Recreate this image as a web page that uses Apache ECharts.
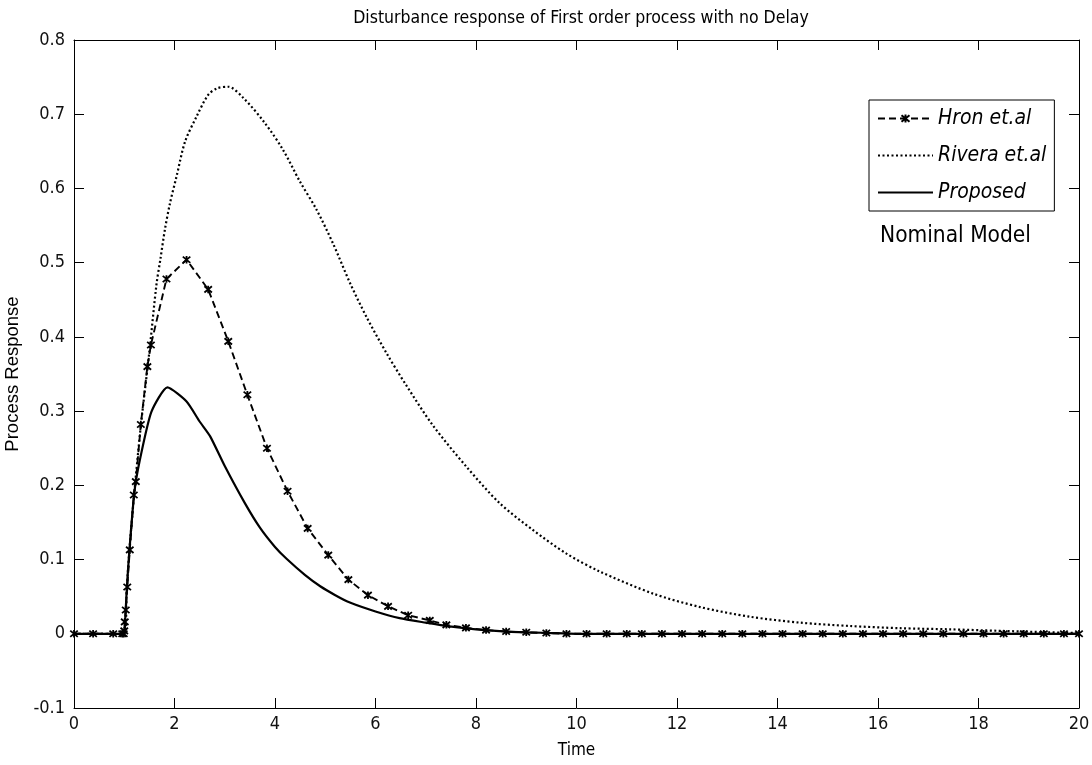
<!DOCTYPE html>
<html>
<head>
<meta charset="utf-8">
<script src="https://cdn.jsdelivr.net/npm/echarts@6/dist/echarts.min.js"></script>
<style>
html,body{margin:0;padding:0;background:#fff;}
#chart{width:1092px;height:765px;}
</style>
</head>
<body>
<div id="chart"></div>
<script>
const titleText = 'Disturbance response of First order process with no Delay';
const xTicks = [0, 2, 4, 6, 8, 10, 12, 14, 16, 18, 20];
const yTicks = [-0.1, 0, 0.1, 0.2, 0.3, 0.4, 0.5, 0.6, 0.7, 0.8];
const seriesNames = ['Hron et.al', 'Rivera et.al', 'Proposed'];

const hronT = [0, 0.38, 0.78, 0.96, 0.99, 1.0, 1.01, 1.03, 1.06, 1.11, 1.19, 1.23, 1.33, 1.46, 1.53, 1.84, 2.24, 2.67, 3.07, 3.45, 3.84, 4.25, 4.65, 5.06, 5.46, 5.85, 6.25, 6.65, 7.08, 7.41, 7.8, 8.2, 8.6, 9.0, 9.4, 9.8, 10.2, 10.6, 11.0, 11.3, 11.7, 12.1, 12.5, 12.9, 13.3, 13.7, 14.1, 14.5, 14.9, 15.3, 15.7, 16.1, 16.5, 16.9, 17.3, 17.7, 18.1, 18.5, 18.9, 19.3, 19.7, 20];
const hronV = [0, 0, 0, 0, 0, 0.004, 0.016, 0.032, 0.063, 0.113, 0.187, 0.205, 0.282, 0.36, 0.389, 0.478, 0.504, 0.464, 0.394, 0.322, 0.25, 0.192, 0.142, 0.106, 0.073, 0.052, 0.037, 0.025, 0.018, 0.012, 0.008, 0.005, 0.003, 0.002, 0.001, 0, 0, 0, 0, 0, 0, 0, 0, 0, 0, 0, 0, 0, 0, 0, 0, 0, 0, 0, 0, 0, 0, 0, 0, 0, 0, 0];

const riveraT = [0, 1.0, 1.05, 1.1, 1.2, 1.33, 1.5, 1.64, 1.72, 1.81, 1.91, 2.04, 2.21, 2.44, 2.67, 2.85, 3.07, 3.37, 3.8, 4.16, 4.49, 4.83, 5.16, 5.49, 5.82, 6.22, 6.61, 7.14, 7.81, 8.47, 9.13, 9.8, 10.46, 11.53, 12.46, 13.45, 14.45, 15.44, 16.44, 17.43, 18.4, 19.4, 20];
const riveraV = [0, 0, 0.06, 0.11, 0.19, 0.28, 0.38, 0.47, 0.505, 0.545, 0.58, 0.616, 0.663, 0.697, 0.726, 0.735, 0.737, 0.722, 0.688, 0.652, 0.61, 0.571, 0.525, 0.473, 0.427, 0.378, 0.335, 0.281, 0.225, 0.176, 0.14, 0.108, 0.084, 0.054, 0.036, 0.023, 0.015, 0.0105, 0.0075, 0.006, 0.004, 0.002, 0.001];

const propT = [0, 1.0, 1.02, 1.05, 1.1, 1.2, 1.31, 1.54, 1.86, 2.24, 2.5, 2.71, 3.0, 3.4, 3.7, 4.0, 4.23, 4.6, 4.9, 5.2, 5.49, 6.0, 6.48, 7.0, 7.47, 8.0, 8.6, 9.5, 10.0, 20];
const propV = [0, 0, 0.02, 0.06, 0.11, 0.19, 0.234, 0.299, 0.332, 0.313, 0.286, 0.266, 0.226, 0.176, 0.143, 0.117, 0.101, 0.079, 0.064, 0.052, 0.042, 0.03, 0.021, 0.015, 0.01, 0.006, 0.003, 0.001, 0, 0];

const zip = (a, b) => a.map((t, i) => [t, b[i]]);
const starPath = 'path://M0,0L10,10M10,0L0,10M5,-1L5,11';
const narrow = "'Liberation Sans Narrow', 'DejaVu Sans Condensed', 'Arial Narrow', sans-serif";

const chart = echarts.init(document.getElementById('chart'), null, {renderer: 'canvas'});
const axisCommon = {
  axisLine: {show: true, onZero: false, lineStyle: {color: '#000', width: 1}},
  axisTick: {show: true, inside: true, length: 10, lineStyle: {color: '#000'}},
  splitLine: {show: false}
};
const hidden = {color: 'rgba(0,0,0,0)', borderColor: 'rgba(0,0,0,0)', borderWidth: 0};
chart.setOption({
  backgroundColor: '#fff',
  animation: false,
  title: {
    text: titleText, left: 576, top: 4, textAlign: 'center',
    textStyle: {fontFamily: narrow, fontSize: 17.5, fontWeight: 'normal', color: '#000'}
  },
  grid: {left: 74, right: 13, top: 40, bottom: 57, containLabel: false, outerBoundsMode: 'none'},
  legend: {
    orient: 'vertical', left: 869, top: 100,
    backgroundColor: '#fff', borderColor: '#000', borderWidth: 1,
    padding: [8, 8, 8, 8], itemGap: 16, itemWidth: 55, itemHeight: 10,
    textStyle: {fontFamily: narrow, fontSize: 21, fontStyle: 'italic', color: '#000'},
    data: [
      {name: seriesNames[0]},
      {name: seriesNames[1], itemStyle: hidden},
      {name: seriesNames[2], itemStyle: hidden}
    ]
  },
  graphic: [{
    type: 'text', left: 880, top: 225,
    style: {text: 'Nominal Model', fontFamily: narrow, fontSize: 22.5, fill: '#000'}
  }],
  xAxis: [
    Object.assign({
      type: 'value', min: 0, max: 20, interval: 2, position: 'bottom',
      name: 'Time', nameLocation: 'middle', nameGap: 34,
      nameTextStyle: {fontFamily: narrow, fontSize: 17, color: '#000'},
      axisLabel: {fontFamily: narrow, fontSize: 18, color: '#111', margin: 7,
        formatter: v => xTicks.includes(v) ? String(v) : ''}
    }, axisCommon),
    Object.assign({
      type: 'value', min: 0, max: 20, interval: 2, position: 'top',
      axisLabel: {show: false}
    }, axisCommon)
  ],
  yAxis: [
    Object.assign({
      type: 'value', min: -0.1, max: 0.8, interval: 0.1, position: 'left',
      name: 'Process Response', nameLocation: 'middle', nameGap: 46,
      nameTextStyle: {fontFamily: "'Liberation Sans', Arial, sans-serif", fontSize: 18.5, color: '#000'},
      axisLabel: {fontFamily: narrow, fontSize: 18, color: '#111', margin: 9,
        formatter: v => { const r = Math.round(v * 10) / 10; return yTicks.includes(r) ? String(r) : ''; }}
    }, axisCommon),
    Object.assign({
      type: 'value', min: -0.1, max: 0.8, interval: 0.1, position: 'right',
      axisLabel: {show: false}
    }, axisCommon)
  ],
  series: [
    {
      name: seriesNames[0], type: 'line', data: zip(hronT, hronV),
      symbol: starPath, symbolSize: 7.5, showSymbol: true,
      itemStyle: {color: '#000', borderColor: '#000', borderWidth: 1.8},
      lineStyle: {color: '#000', width: 1.9, type: [7, 4]}, z: 3
    },
    {
      name: seriesNames[1], type: 'line', data: zip(riveraT, riveraV),
      symbol: 'none', showSymbol: false, smooth: 0.3,
      itemStyle: {color: '#000'},
      lineStyle: {color: '#000', width: 2.2, type: [2, 2.5]}
    },
    {
      name: seriesNames[2], type: 'line', data: zip(propT, propV),
      symbol: 'none', showSymbol: false, smooth: 0.2,
      itemStyle: {color: '#000'},
      lineStyle: {color: '#000', width: 2.2, type: 'solid'}
    }
  ]
});
</script>
</body>
</html>
